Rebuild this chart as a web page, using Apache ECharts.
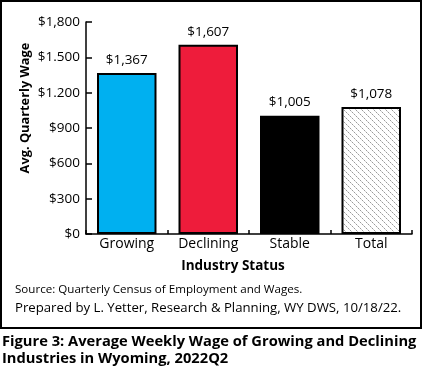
<!DOCTYPE html>
<html>
<head>
<meta charset="utf-8">
<script src="https://cdn.jsdelivr.net/npm/echarts@6/dist/echarts.min.js"></script>
<style>html,body{margin:0;padding:0;background:#fff;}#c{width:425px;height:371px;}</style>
</head>
<body>
<div id="c"></div>
<script>
var categories = ['Growing', 'Declining', 'Stable', 'Total'];
var wages = [1367, 1607, 1005, 1078];
var valueLabels = ['$1,367', '$1,607', '$1,005', '$1,078'];
var tickValues = [0, 300, 600, 900, 1200, 1500, 1800];
var tickLabels = ['$0', '$300', '$600', '$900', '$1.200', '$1.500', '$1,800'];
var barColors = ['#00B0F0', '#EE1C3B', '#000000', 'hatch'];

var FONT = 'Open Sans';

function hatch() {
  var n = 6;
  var c = document.createElement('canvas');
  c.width = n; c.height = n;
  var g = c.getContext('2d');
  g.fillStyle = '#ffffff';
  g.fillRect(0, 0, n, n);
  for (var i = 0; i < n; i += 1) {
    g.fillStyle = (i % 2 === 0) ? '#9a9a9a' : '#cfcfcf';
    g.fillRect(i, i, 1, 1);
  }
  return c;
}
var hatchCanvas = hatch();

var chart = echarts.init(document.getElementById('c'), null, {renderer: 'canvas'});
var data = wages.map(function (v, i) {
  var col = barColors[i] === 'hatch' ? {image: hatchCanvas, repeat: 'repeat'} : barColors[i];
  return {value: v, itemStyle: {color: col}};
});

chart.setOption({
  animation: false,
  grid: {left: 86, right: 13, top: 22, bottom: 137, containLabel: false},
  xAxis: {
    type: 'category',
    data: categories,
    name: 'Industry Status',
    nameLocation: 'middle',
    nameGap: 25,
    nameTextStyle: {fontFamily: FONT, fontWeight: 'bold', fontSize: 13.5, color: '#000', padding: [0, 32, 0, 0]},
    axisLine: {lineStyle: {color: '#000', width: 1.5}},
    axisTick: {show: true, inside: true, length: 4, alignWithLabel: false, lineStyle: {color: '#000', width: 1.5}},
    axisLabel: {fontFamily: FONT, fontSize: 14, color: '#000', margin: 3}
  },
  yAxis: {
    type: 'value',
    min: 0, max: 1800, interval: 300,
    axisLine: {show: true, lineStyle: {color: '#000', width: 1.5}},
    axisTick: {show: true, inside: true, length: 6, lineStyle: {color: '#000', width: 1.5}},
    splitLine: {show: false},
    axisLabel: {
      fontFamily: FONT, fontSize: 13.5, color: '#000', margin: 6,
      formatter: function (v) { var i = tickValues.indexOf(v); return i >= 0 ? tickLabels[i] : ''; }
    }
  },
  series: [{
    type: 'bar',
    data: data,
    barWidth: '73%',
    itemStyle: {borderColor: '#000', borderWidth: 2},
    label: {
      show: true, position: 'top', distance: 6,
      fontFamily: FONT, fontSize: 13.5, color: '#000',
      formatter: function (p) { return valueLabels[p.dataIndex]; }
    }
  }],
  graphic: [
    {type: 'rect', shape: {x: 1, y: 1, width: 420, height: 327}, style: {fill: null, stroke: '#000', lineWidth: 2}, silent: true, z: 100},
    {type: 'text', x: 25, y: 108, rotation: Math.PI / 2, style: {text: 'Avg. Quarterly Wage', font: 'bold 12.8px "Open Sans"', fill: '#000', textAlign: 'center', textVerticalAlign: 'middle'}},
    {type: 'text', x: 15, y: 290, style: {text: 'Source: Quarterly Census of Employment and Wages.', font: '11.6px "Open Sans"', fill: '#000', textVerticalAlign: 'middle'}},
    {type: 'text', x: 15, y: 308, style: {text: 'Prepared by L. Yetter, Research & Planning, WY DWS, 10/18/22.', font: '13.2px "Open Sans"', fill: '#000', textVerticalAlign: 'middle'}},
    {type: 'text', x: 2, y: 342, style: {text: 'Figure 3: Average Weekly Wage of Growing and Declining', font: 'bold 14.7px "Open Sans"', fill: '#000', textVerticalAlign: 'middle'}},
    {type: 'text', x: 2, y: 359, style: {text: 'Industries in Wyoming, 2022Q2', font: 'bold 14.7px "Open Sans"', fill: '#000', textVerticalAlign: 'middle'}}
  ]
});
</script>
</body>
</html>
